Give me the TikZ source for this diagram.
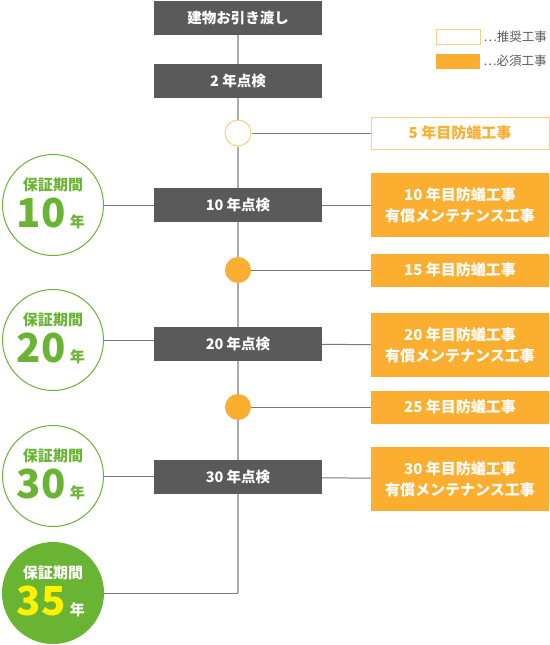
\documentclass[tikz,border=0pt]{standalone}
\usepackage{fontspec}
\setmainfont{Noto Sans CJK JP}
\usetikzlibrary{positioning,backgrounds}
\definecolor{boxgray}{HTML}{5A5A5A}
\definecolor{linegray}{HTML}{ABABAB}
\definecolor{branchgray}{HTML}{7A7A7A}
\definecolor{kouji}{HTML}{FBAE2F}
\definecolor{hosho}{HTML}{6AB434}
\definecolor{hoshoyel}{HTML}{FFF200}

\begin{document}
\begin{tikzpicture}[x=1pt, y=-1pt,
  ten/.style={rectangle, fill=boxgray, text=white, minimum width=168pt, minimum height=34pt,
              inner sep=0pt, font=\bfseries\fontsize{14.5}{16}\selectfont},
  kou/.style={rectangle, fill=kouji, text=white, minimum width=178pt, minimum height=33pt,
              inner sep=0pt, align=center, font=\bfseries\fontsize{15}{21}\selectfont},
  suisho/.style={kou, fill=white, draw=kouji!60, text=kouji, line width=1pt},
  pt/.style={circle, fill=kouji, minimum size=26pt, inner sep=0pt},
  hk/.style={circle, draw=hosho, line width=1pt, fill=white, minimum size=101pt, inner sep=0pt},
  hklbl/.style={text=hosho, font=\bfseries\fontsize{15}{16}\selectfont, inner sep=0pt},
  hknum/.style={text=hosho, font=\bfseries\fontsize{40}{40}\selectfont, inner sep=0pt},
  ln/.style={draw=linegray, line width=2pt},
  br/.style={draw=branchgray, line width=1pt}
]
\useasboundingbox (0,0) rectangle (549,645);

% timeline
\node[ten] (han) at (238,18) {建物お引き渡し};
\node[ten] (t2) at (238,81) {2 年点検};
\node[pt, fill=white, draw=kouji!60, line width=1pt] (p5) at (238,133) {};
\node[ten] (t10) at (238,205) {10 年点検};
\node[pt] (p15) at (238,270) {};
\node[ten] (t20) at (238,344) {20 年点検};
\node[pt] (p25) at (238,407) {};
\node[ten] (t30) at (238,477) {30 年点検};
\coordinate (end) at (238,593);

% works
\node[suisho, minimum height=32pt] (k5) at (460,133) {5 年目防蟻工事};
\node[kou, minimum height=64pt] (k10) at (460,205) {10 年目防蟻工事\\有償メンテナンス工事};
\node[kou] (k15) at (460,270) {15 年目防蟻工事};
\node[kou, minimum height=64pt] (k20) at (460,345) {20 年目防蟻工事\\有償メンテナンス工事};
\node[kou] (k25) at (460,407) {25 年目防蟻工事};
\node[kou, minimum height=64pt] (k30) at (460,479) {30 年目防蟻工事\\有償メンテナンス工事};

% warranty circles
\node[hk] (h10) at (53,205) {};
\node[hk] (h20) at (53,340) {};
\node[hk] (h30) at (53,476) {};
\node[hk, fill=hosho] (h35) at (53,593) {};

\begin{scope}[on background layer]
\draw[ln] (han) -- (t2) -- (p5) -- (t10) -- (p15) -- (t20) -- (p25) -- (t30) -- (end);
\draw[br] (end) -- (h35);
\draw[br] (p5) -- (k5);
\draw[br] (h10) -- (t10) -- (k10);
\draw[br] (p15) -- (k15);
\draw[br] (h20) -- (h20 -| t20.west);
\draw[br] (t20) -- (k20);
\draw[br] (p25) -- (k25);
\draw[br] (h30) -- (h30 -| t30.west);
\draw[br] (t30) -- (k30);
\end{scope}

% circle texts
\foreach \c/\num in {h10/10, h20/20, h30/30} {
  \node[hklbl] (\c l) at ([yshift=20pt]\c) {保証期間};
  \node[hknum] (\c n) at ([xshift=-12pt, yshift=-8pt]\c) {\num};
  \node[hklbl, anchor=south west] at ([xshift=4pt, yshift=-1pt]\c n.south east) {年};
}
\node[hklbl, text=white] (h35l) at ([yshift=20pt]h35) {保証期間};
\node[hknum, text=hoshoyel] (h35n) at ([xshift=-12pt, yshift=-8pt]h35) {35};
\node[hklbl, text=white, anchor=south west] at ([xshift=4pt, yshift=-1pt]h35n.south east) {年};

% legend
\node[rectangle, draw=kouji!60, line width=1pt, fill=white, minimum width=44pt, minimum height=15pt, inner sep=0pt] (lg1) at (458,37) {};
\node[rectangle, fill=kouji, minimum width=44pt, minimum height=15pt, inner sep=0pt] (lg2) at (458,61) {};
\node[right=3pt of lg1, inner sep=0pt, font=\fontsize{12.5}{13}\selectfont, text=boxgray] {…推奨工事};
\node[right=3pt of lg2, inner sep=0pt, font=\fontsize{12.5}{13}\selectfont, text=boxgray] {…必須工事};
\end{tikzpicture}
\end{document}
